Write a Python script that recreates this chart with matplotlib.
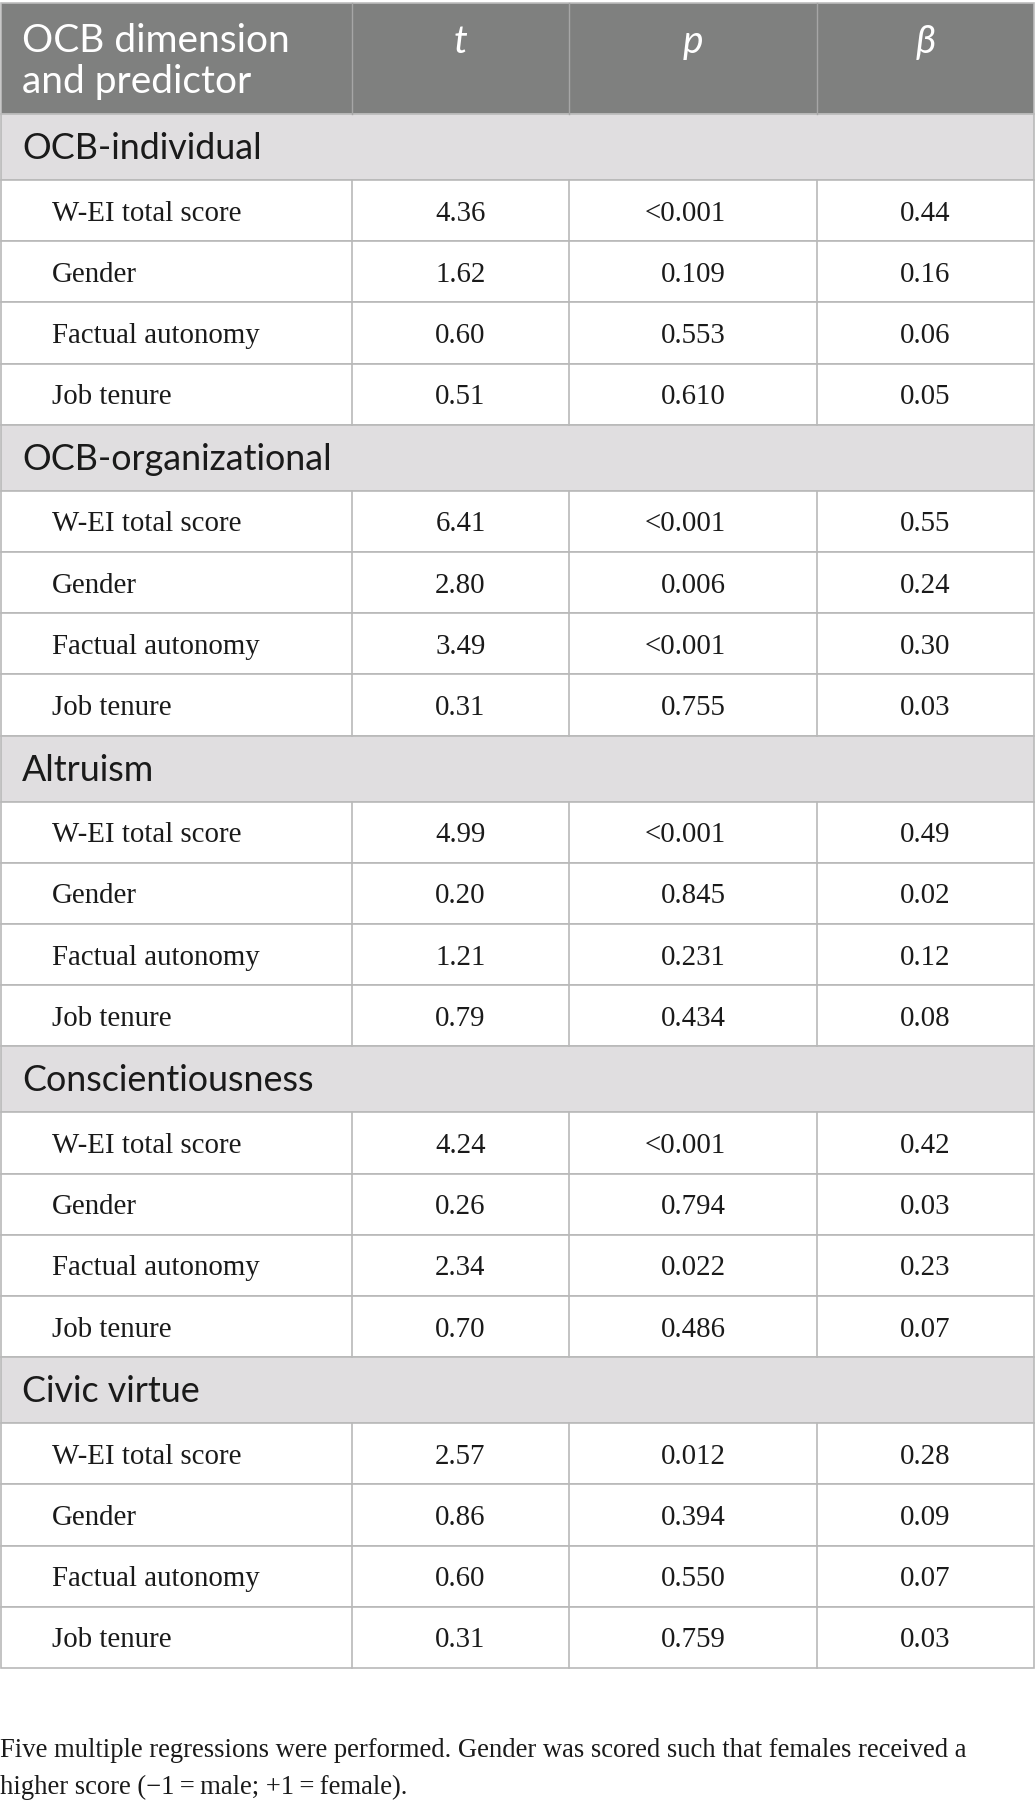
import matplotlib.pyplot as plt
from matplotlib.patches import Rectangle

# table data
sections = ["OCB-individual", "OCB-organizational", "Altruism",
            "Conscientiousness", "Civic virtue"]
predictors = ["W-EI total score", "Gender", "Factual autonomy", "Job tenure"]
t_vals = [[4.36, 1.62, 0.60, 0.51],
          [6.41, 2.80, 3.49, 0.31],
          [4.99, 0.20, 1.21, 0.79],
          [4.24, 0.26, 2.34, 0.70],
          [2.57, 0.86, 0.60, 0.31]]
p_vals = [["<0.001", "0.109", "0.553", "0.610"],
          ["<0.001", "0.006", "<0.001", "0.755"],
          ["<0.001", "0.845", "0.231", "0.434"],
          ["<0.001", "0.794", "0.022", "0.486"],
          ["0.012", "0.394", "0.550", "0.759"]]
beta_vals = [[0.44, 0.16, 0.06, 0.05],
             [0.55, 0.24, 0.30, 0.03],
             [0.49, 0.02, 0.12, 0.08],
             [0.42, 0.03, 0.23, 0.07],
             [0.28, 0.09, 0.07, 0.03]]
col_heads = ["t", "p", "β"]
footnote = ["Five multiple regressions were performed. Gender was scored such that females received a",
            "higher score (\u22121\u2009=\u2009male; +1\u2009=\u2009female)."]

W, H = 1035, 1810
fig = plt.figure(figsize=(W / 100, H / 100), dpi=100)
ax = fig.add_axes([0, 0, 1, 1])
ax.set_xlim(0, W)
ax.set_ylim(H, 0)
ax.axis("off")

sans = ["Lato", "DejaVu Sans"]
serif = ["Liberation Serif", "DejaVu Serif"]
head_bg = "#7f807f"
sec_bg = "#e0dee0"
grid = "#b9b9b9"
ink = "#1a1a1a"

cols = [1, 352, 569, 817, 1034]
top, head_h, sec_h, row_h = 3, 111, 66, 61.2
fs_head, fs_sec, fs_cell, fs_note = 28, 25.8, 20.8, 19.2

# header
ax.add_patch(Rectangle((cols[0], top), cols[-1] - cols[0], head_h,
                       facecolor=head_bg, edgecolor="#bdbdbd", lw=1.2))
for x in cols[1:-1]:
    ax.plot([x, x], [top, top + head_h], color="#a6a6a6", lw=1.0)
ax.text(22, 52, "OCB dimension", family=sans, fontsize=fs_head, color="white", va="baseline")
ax.text(22, 93, "and predictor", family=sans, fontsize=fs_head, color="white", va="baseline")
for i, lab in enumerate(col_heads):
    xc = (cols[i + 1] + cols[i + 2]) / 2
    ax.text(xc, 53, lab, family=sans, fontsize=fs_head, style="italic",
            color="white", ha="center", va="baseline")

y = top + head_h
for s, sec in enumerate(sections):
    ax.add_patch(Rectangle((cols[0], y), cols[-1] - cols[0], sec_h,
                           facecolor=sec_bg, edgecolor=grid, lw=1.2))
    ax.text(22, y + sec_h / 2 + 12, sec, family=sans, fontsize=fs_sec,
            color=ink, va="baseline")
    y += sec_h
    for r, pred in enumerate(predictors):
        ax.add_patch(Rectangle((cols[0], y), cols[-1] - cols[0], row_h,
                               facecolor="white", edgecolor=grid, lw=1.2))
        for x in cols[1:-1]:
            ax.plot([x, x], [y, y + row_h], color=grid, lw=1.2)
        yb = y + row_h / 2 + 10
        ax.text(52, yb, pred, family=serif, fontsize=fs_cell, color=ink, va="baseline")
        ax.text((cols[1] + cols[2]) / 2, yb, f"{t_vals[s][r]:.2f}", family=serif,
                fontsize=fs_cell, color=ink, ha="center", va="baseline")
        ax.text(726, yb, p_vals[s][r], family=serif, fontsize=fs_cell,
                color=ink, ha="right", va="baseline")
        ax.text((cols[3] + cols[4]) / 2, yb, f"{beta_vals[s][r]:.2f}", family=serif,
                fontsize=fs_cell, color=ink, ha="center", va="baseline")
        y += row_h

ax.text(0, 1757, footnote[0], family=serif, fontsize=fs_note, color=ink, va="baseline")
ax.text(0, 1794, footnote[1], family=serif, fontsize=fs_note, color=ink, va="baseline")

fig.savefig("out.png", dpi=100)
